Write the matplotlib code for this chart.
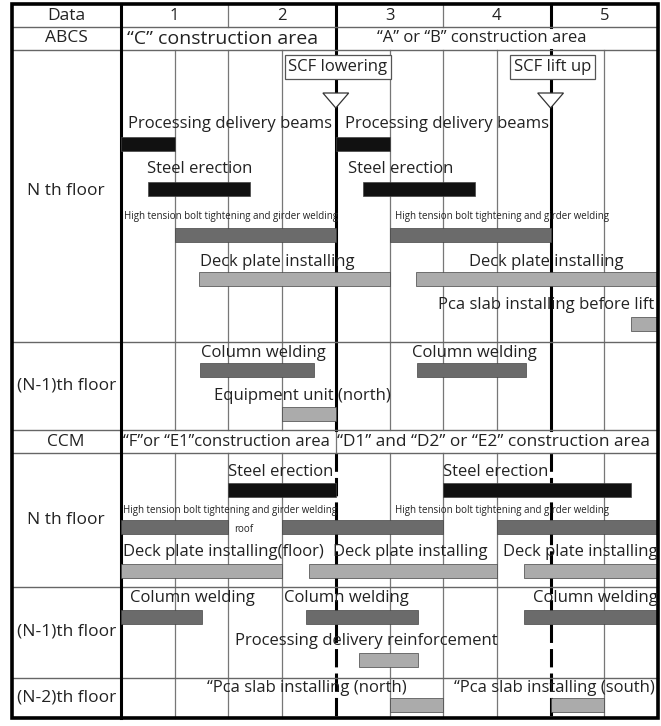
import matplotlib
matplotlib.use("Agg")
import matplotlib.pyplot as plt
from matplotlib.patches import Rectangle, Polygon

plt.rcParams['font.family'] = ['Open Sans', 'DejaVu Sans']

# ==========================================
# 1. SCHEDULE DATA (x in days, 0..5)
# ==========================================
day_labels = ["1", "2", "3", "4", "5"]
events = ["SCF lowering", "SCF lift up"]
event_day = [2.0, 4.0]

row_names = ["Data", "ABCS", "N th floor", "(N-1)th floor", "CCM",
             "N th floor", "(N-1)th floor", "(N-2)th floor"]
area_abcs = ["\u201cC\u201d construction area", "\u201cA\u201d or \u201cB\u201d construction area"]
area_ccm = ["\u201cF\u201dor \u201cE1\u201dconstruction area",
            "\u201cD1\u201d and \u201cD2\u201d or \u201cE2\u201d construction area"]

# bars: start day, end day, lane, kind
bar_start = [0.0, 2.0, 0.25, 2.25, 0.5, 2.5, 0.73, 2.75, 4.75, 0.74, 2.76, 1.5,
             1.0, 3.0, 0.0, 1.5, 3.5, 0.0, 1.75, 3.75, 0.0, 1.72, 3.75, 2.22, 2.5, 4.0]
bar_end = [0.5, 2.5, 1.2, 3.3, 2.0, 4.0, 2.5, 5.0, 5.0, 1.8, 3.77, 2.0,
           2.0, 4.75, 1.0, 3.0, 5.0, 1.5, 3.5, 5.0, 0.75, 2.77, 5.0, 2.77, 3.0, 4.5]
bar_lane = ["pdb", "pdb", "steel", "steel", "htb", "htb", "deck", "deck", "pca", "col", "col", "equip",
            "steel2", "steel2", "htb2", "htb2", "htb2", "deck2", "deck2", "deck2",
            "col2", "col2", "col2", "pdr", "pca2", "pca2"]
bar_kind = ["black", "black", "black", "black", "dark", "dark", "light", "light", "light", "dark", "dark", "light",
            "black", "black", "dark", "dark", "dark", "light", "light", "light",
            "dark", "dark", "dark", "light", "light", "light"]

htb_text = "High tension bolt tightening and girder welding"
label_text = ["Processing delivery beams", "Processing delivery beams",
              "Steel erection", "Steel erection", htb_text, htb_text,
              "Deck plate installing", "Deck plate installing", "Pca slab installing before lift",
              "Column welding", "Column welding", "Equipment unit (north)",
              "Steel erection", "Steel erection", htb_text, htb_text, "roof",
              "Deck plate installing(floor)", "Deck plate installing", "Deck plate installing",
              "Column welding", "Column welding", "Column welding",
              "Processing delivery reinforcement",
              "\u201cPca slab installing (north)", "\u201cPca slab installing (south)"]
label_lane = ["pdb", "pdb", "steel", "steel", "htb", "htb", "deck", "deck", "pca",
              "col", "col", "equip", "steel2", "steel2", "htb2", "htb2", "roof",
              "deck2", "deck2", "deck2", "col2", "col2", "col2", "pdr", "pca2", "pca2"]

# ==========================================
# 2. LAYOUT (y in pixels from the top)
# ==========================================
label_x = [0.065, 2.086, 0.242, 2.11, 0.028, 2.55, 0.736, 3.24, 2.95, 0.745, 2.71, 0.866,
           1.0, 3.0, 0.02, 2.55, 1.145, 0.02, 1.97, 3.56, 0.08, 1.52, 3.84, 1.06, 0.80, 3.10]
lane_bar_y = {"pdb": 144, "steel": 189, "htb": 235, "deck": 279, "pca": 324, "col": 370,
              "equip": 414, "steel2": 490, "htb2": 527, "deck2": 571, "col2": 617,
              "pdr": 660, "pca2": 705}
lane_label_y = {"pdb": 124, "steel": 169, "htb": 217, "deck": 262, "pca": 305, "col": 353,
                "equip": 396, "steel2": 472, "htb2": 510, "roof": 530, "deck2": 552, "col2": 598,
                "pdr": 641, "pca2": 688}
row_edges = [4, 27, 50, 342, 430, 453, 587, 678, 718]
row_label_y = [15.5, 38.5, 191, 386, 441.5, 520, 632, 698]
kind_color = {"black": "#111111", "dark": "#6b6b6b", "light": "#ababab"}
BAR_H = 13.5
X0, DAY = 121.0, 107.4
LEFT = (11.5 - X0) / DAY
RIGHT = 5.0
FS = 12
TXT = '#222222'

fig = plt.figure(figsize=(6.61, 7.26), dpi=100)
ax = fig.add_axes([0, 0, 1, 1])
ax.set_xlim(-X0 / DAY, (661 - X0) / DAY)
ax.set_ylim(726, 0)
ax.axis('off')

grid_c = '#777777'
# vertical half-day lines in the body
half_days = [0.5, 1.0, 1.5, 2.5, 3.0, 3.5, 4.5]
for hd in half_days:
    ax.plot([hd, hd], [row_edges[2], row_edges[4]], color=grid_c, lw=0.9, zorder=1)
    ax.plot([hd, hd], [row_edges[5], row_edges[8]], color=grid_c, lw=0.9, zorder=1)
# header day dividers
for d in [1.0, 3.0]:
    ax.plot([d, d], [row_edges[0], row_edges[1]], color=grid_c, lw=0.9, zorder=1)
# divider between the two CCM areas
ax.plot([2.0, 2.0], [row_edges[4], row_edges[5]], color=grid_c, lw=0.9, zorder=1)
# event lines (solid in ABCS part, dashed in CCM part)
for ed in event_day:
    ax.plot([ed, ed], [row_edges[0], row_edges[1]], color='black', lw=2.2, zorder=1)
    ax.plot([ed, ed], [row_edges[2], row_edges[4]], color='black', lw=2.2, zorder=1)
    ax.plot([ed, ed], [row_edges[5], row_edges[8]], color='black', lw=2.2, zorder=1,
            linestyle=(0, (6, 2)))
ax.plot([2.0, 2.0], [row_edges[1], row_edges[2]], color='black', lw=2.2, zorder=1)

# horizontal row separators
for ye in row_edges[1:-1]:
    ax.plot([LEFT, RIGHT], [ye, ye], color='#666666', lw=1.0, zorder=1)
# label column divider and outer border
ax.plot([0, 0], [row_edges[0], row_edges[-1]], color='black', lw=2.2, zorder=3)
ax.add_patch(Rectangle((LEFT, row_edges[0]), RIGHT - LEFT, row_edges[-1] - row_edges[0],
                       fill=False, edgecolor='black', lw=2.6, zorder=4))

# row labels
label_col_x = LEFT / 2
for name, yc in zip(row_names, row_label_y):
    ax.text(label_col_x, yc, name, ha='center', va='center', fontsize=12.5, color=TXT)

# day numbers
for i, dl in enumerate(day_labels):
    ax.text(i + 0.5, (row_edges[0] + row_edges[1]) / 2, dl, ha='center', va='center',
            fontsize=FS, color=TXT)

# construction areas
yc = (row_edges[1] + row_edges[2]) / 2
ax.text(0.95, yc, area_abcs[0], ha='center', va='center', fontsize=14, color=TXT)
ax.text(3.36, yc, area_abcs[1], ha='center', va='center', fontsize=FS, color=TXT)
yc = (row_edges[4] + row_edges[5]) / 2
ax.text(0.985, yc, area_ccm[0], ha='center', va='center', fontsize=FS, color=TXT)
ax.text(3.47, yc, area_ccm[1], ha='center', va='center', fontsize=12.4, color=TXT)

# SCF event markers
for name, ed in zip(events, event_day):
    ax.text(ed + 0.02, 67, name, ha='center', va='center', fontsize=FS, color=TXT, zorder=6,
            bbox=dict(boxstyle='square,pad=0.22', facecolor='white', edgecolor='#555555', lw=0.9))
    tri = Polygon([(ed - 0.12, 93), (ed + 0.12, 93), (ed, 108)], closed=True,
                  facecolor='white', edgecolor='#333333', lw=0.9, zorder=5)
    ax.add_patch(tri)

# bars
for s, e, ln, kd in zip(bar_start, bar_end, bar_lane, bar_kind):
    y = lane_bar_y[ln]
    ax.add_patch(Rectangle((s, y - BAR_H / 2), e - s, BAR_H, facecolor=kind_color[kd],
                           edgecolor='#444444', lw=0.5, zorder=3))

# task labels
for t, lx, ln in zip(label_text, label_x, label_lane):
    small = t == htb_text or t == "roof"
    ax.text(lx, lane_label_y[ln], t, ha='left' if t != "roof" else 'center', va='center',
            fontsize=7.0 if small else FS, color=TXT, zorder=6)

fig.savefig("out.png", dpi=100)
